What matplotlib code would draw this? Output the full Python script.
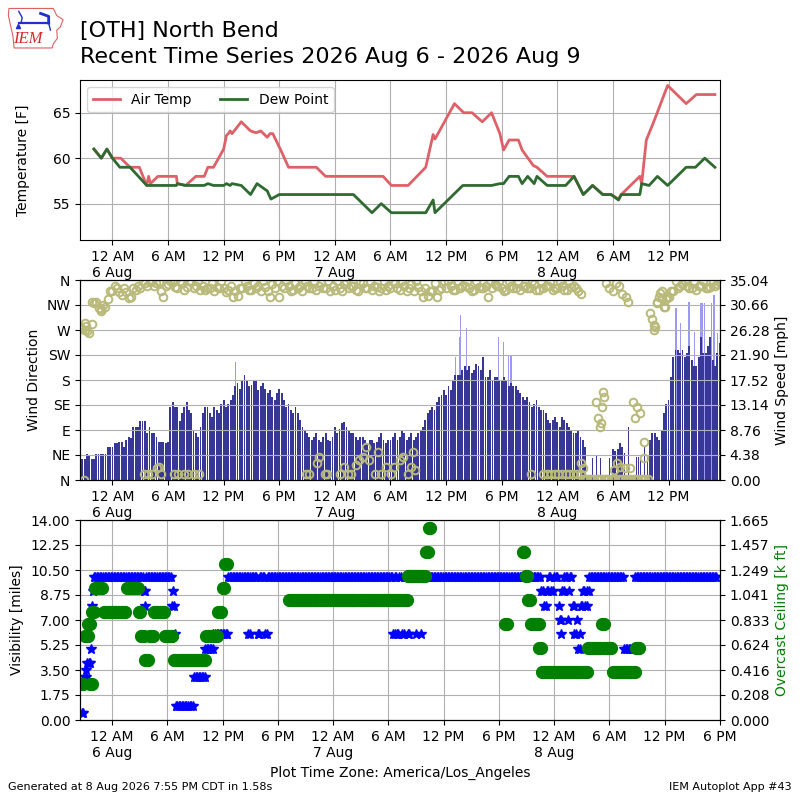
import numpy as np
import pandas as pd
import matplotlib
matplotlib.use("Agg")
import matplotlib.pyplot as plt
import matplotlib.dates as mdates
from matplotlib.ticker import FuncFormatter, FixedLocator
from matplotlib.patches import Polygon

# hours are relative to 6 Aug 2026 00:00 (America/Los_Angeles)
BASE = pd.Timestamp("2026-08-06 00:00")

# --- temperature / dew point (F) ---
temp_hours = [-2.0, -1.2, -0.6, 0.0, 0.9, 1.9, 2.9, 3.7, 3.9, 4.1, 4.9, 6.9, 7.0, 7.9,
              9.0, 9.9, 10.3, 10.9, 12.0, 12.3, 12.5, 12.7, 12.9, 13.9, 14.9, 15.5,
              16.0, 16.7, 17.0, 17.3, 18.2, 19.0, 22.0, 23.0, 29.2, 30.1, 31.9, 33.8,
              34.6, 34.8, 36.9, 37.9, 38.8, 39.9, 40.9, 41.8, 42.2, 42.8, 43.8, 44.2,
              45.4, 45.8, 46.9, 49.8, 50.8, 51.8, 52.9, 53.8, 54.6, 54.9, 56.9, 57.1,
              57.6, 58.4, 59.9, 61.9, 63.0, 65.0]
temp_vals = [61, 60, 61, 60, 60, 59, 59, 57, 58, 57.2, 58, 58, 57.2, 57,
             58, 58, 59, 59, 61, 62.5, 62.7, 63, 62.7, 64, 63, 62.8,
             63, 62.3, 62.7, 62.7, 60.8, 59, 59, 58, 58, 57, 57, 59,
             62.6, 62.1, 66, 65, 65, 64, 65, 62.7, 60.9, 62, 62, 60.9,
             59.2, 59, 58, 58, 56, 57, 56, 56, 55.5, 56, 58, 57.2,
             62, 64, 68, 66, 67, 67]
dew_hours = [-2.0, -1.2, -0.6, 0.0, 0.8, 1.9, 3.7, 4.9, 6.9, 7.0, 7.9, 9.9, 10.3, 10.9,
             12.0, 12.3, 12.7, 12.9, 13.9, 14.9, 15.6, 16.7, 17.1, 18.0, 26.0, 28.0,
             29.0, 30.1, 33.8, 34.6, 34.8, 37.8, 40.9, 41.8, 42.2, 42.8, 43.8, 44.2,
             44.8, 45.5, 45.8, 46.9, 48.9, 49.8, 50.8, 51.8, 52.9, 53.8, 54.6, 54.9,
             56.9, 57.1, 57.9, 58.8, 59.9, 61.9, 62.9, 63.9, 65.0]
dew_vals = [61, 60, 61, 60, 59, 59, 57, 57, 57, 57.2, 57, 57, 57.2, 57,
            57, 57.2, 57, 57.2, 57, 56, 57.2, 56.4, 55.5, 56, 56, 54,
            55, 54, 54, 55.4, 54, 57, 57, 57.2, 57.2, 58, 58, 57.2,
            58, 57.2, 58, 57, 57, 58, 56, 57, 56, 56, 55.4, 56,
            56, 57.2, 57, 58, 57, 59, 59, 60, 59]

# --- wind, every 30 minutes from 5 Aug 20:30 ---
wind_speed = [3.6, 3.6, 4.2, 3.6, 4.5, 4.5, 5.8,
              5.8, 6.4, 6.7, 7.0, 7.3, 9.3, 10.3, 10.3, 9.3, 8.2, 6.7, 6.7,
              6.7, 13.7, 12.8, 11.7, 13.7, 11.7, 8.2, 9.3, 12.8, 11.7, 12.8, 11.7,
              14.0, 13.4, 14.9, 17.0, 17.5, 17.5, 16.6, 17.5, 16.4, 16.0, 15.8, 14.0,
              16.0, 14.0, 13.4, 11.7, 11.7, 9.3, 8.2, 7.0, 8.2, 6.7, 8.2, 6.8,
              9.3, 9.0, 10.2, 8.8, 8.2, 7.0, 7.6, 6.4, 7.0, 6.7, 8.2, 6.4,
              7.0, 8.2, 7.6, 8.2, 7.6, 7.0, 8.2, 9.3, 11.7, 12.8, 13.7, 14.9,
              14.9, 15.8, 18.4, 18.4, 19.9, 19.9, 19.3, 19.9, 21.6, 18.1, 17.5, 18.1,
              17.5, 17.5, 17.0, 16.4, 15.2, 14.0, 13.7, 13.4, 12.8, 12.3, 10.5, 10.5,
              10.2, 11.0, 9.9, 8.8, 8.2, 7.6, 5.8, 0, 0, 0, 0, 0,
              5.5, 5.5, 5.8, 0, 0, 0, 0, 0, 7.0, 8.2, 7.0, 11.7,
              14.0, 21.6, 22.8, 22.8, 22.2, 21.0, 19.9, 25.1, 22.2, 25.1, 19.9, 24.0]
# the same half hours, a quarter hour later
wind_speed_q = [3.6, 4.5, 3.6, 4.5, 4.5, 4.5, 5.8,
                6.4, 6.7, 5.8, 7.6, 9.3, 9.3, 10.3, 8.2, 8.2, 7.6, 6.7, 6.4,
                12.8, 12.8, 10.3, 12.8, 12.3, 8.8, 7.6, 11.7, 12.8, 11.0, 12.3, 13.4,
                12.8, 14.0, 16.4, 16.0, 18.4, 16.4, 17.5, 15.8, 17.0, 15.2, 14.6, 15.2,
                15.2, 12.8, 12.3, 12.8, 10.5, 8.8, 7.6, 7.6, 7.0, 7.6, 7.0, 7.6,
                8.2, 9.9, 9.3, 8.2, 7.6, 7.6, 7.0, 7.0, 6.4, 7.6, 7.0, 7.0,
                7.6, 7.0, 8.8, 7.0, 8.2, 7.6, 8.8, 10.5, 12.3, 12.3, 14.6, 15.8,
                16.4, 17.5, 18.4, 19.3, 19.3, 18.7, 20.4, 19.3, 18.1, 19.3, 18.1, 17.5,
                18.1, 16.4, 16.4, 15.8, 14.6, 14.6, 12.8, 14.0, 12.3, 11.7, 9.9, 11.0,
                9.3, 10.5, 9.3, 8.2, 8.8, 7.0, 0, 0, 0, 0, 0, 0,
                5.0, 6.4, 4.7, 0, 0, 0, 0, 0, 8.2, 7.6, 8.8, 13.4,
                18.1, 22.8, 22.2, 21.6, 23.4, 19.9, 21.6, 22.2, 23.4, 21.0, 22.2, 24.0]
wind_drct = [275, 282, 265, 318, 310, 315, 325,
             340, 345, 333, 338, 330, 342, 345, 355, 357, 350, 357, 330,
             352, 357, 345, 355, 348, 357, 350, 342, 342, 345, 340, 345,
             345, 342, 330, 332, 345, 350, 342, 345, 340, 348, 330, 345,
             330, 345, 350, 342, 345, 340, 350, 345, 342, 355, 345, 340,
             342, 345, 352, 345, 350, 340, 355, 345, 342, 348, 345, 342,
             345, 355, 342, 350, 345, 340, 348, 330, 332, 340, 330, 345,
             345, 350, 342, 345, 350, 345, 342, 348, 345, 330, 345, 350,
             345, 342, 350, 345, 342, 350, 345, 352, 342, 345, 350, 342,
             345, 350, 342, 348, 345, 335, 2, 2, 2, 2, 2, 2,
             2, 2, 2, 2, 2, 2, 2, 2, 300, 275, 330, 312,
             330, 340, 345, 352, 350, 345, 342, 350, 345, 348, 350, 355]
wind_drct_q = [272, 268, 280, 320, 305, 312, 340,
               350, 338, 345, 328, 345, 350, 358, 350, 358, 355, 340, 350,
               358, 348, 358, 342, 358, 345, 358, 350, 345, 355, 348, 358,
               338, 350, 340, 345, 358, 342, 355, 350, 358, 340, 352, 358,
               350, 358, 340, 355, 350, 358, 345, 358, 350, 345, 358, 350,
               358, 340, 358, 350, 342, 358, 345, 358, 350, 340, 358, 350,
               358, 345, 358, 340, 352, 358, 340, 345, 340, 355, 342, 358,
               358, 342, 358, 350, 358, 340, 358, 345, 350, 358, 352, 358,
               340, 358, 345, 358, 350, 345, 358, 342, 358, 350, 358, 345,
               358, 342, 358, 350, 340, 2, 2, 2, 2, 2, 2, 2,
               2, 2, 2, 2, 2, 2, 2, 2, 290, 320, 340, 325,
               340, 358, 350, 358, 345, 358, 350, 358, 345, 358, 352, 358]
# short spikes of sustained wind during the light-wind period
spike_hours = [51.8, 52.2, 52.7, 53.6, 55.7, 56.5, 56.8, 57.0, 57.4, 57.7]
spike_speed = [3.9, 4.2, 3.9, 3.9, 9.3, 4.1, 4.1, 4.1, 5.8, 4.1]
gust_hours = [13.3, 37.0, 37.4, 37.6, 38.2, 41.7, 42.2, 42.7, 43.0,
              60.8, 61.3, 62.2, 62.8, 63.5, 63.7, 63.9, 64.6, 64.9, 65.3]
gust_speed = [20.7, 21.6, 25.1, 28.9, 26.6, 25.1, 24.2, 21.7, 21.7,
              30.1, 27.5, 31.2, 26.0, 31.0, 31.0, 31.0, 31.0, 32.4, 25.7]
# extra direction reports (variable / light wind)
drct2_hours = [-3.1, -3.0, -2.8, -2.2, -1.2,
               3.4, 3.8, 4.3, 4.8, 5.0, 5.2, 6.6, 7.1, 7.7, 8.2, 8.8, 9.3,
               20.9, 21.2, 22.1, 22.3, 22.9, 23.2,
               24.5, 25.0, 25.4, 25.7, 26.3, 26.6, 27.0, 27.4, 27.7, 28.3, 28.6, 29.0,
               29.5, 30.1, 30.4, 31.0, 31.3, 31.9, 32.2, 32.4, 32.6,
               45.2, 46.5, 46.9, 47.3, 47.7, 48.1, 48.5, 48.9, 49.3, 49.7, 50.1, 50.5,
               50.6, 50.8,
               52.2, 52.4, 52.6, 52.7, 52.8, 52.9, 53.0,
               53.3, 53.6, 54.0, 54.3, 54.6, 55.0, 55.4, 55.6,
               54.1, 54.4, 54.8, 55.3, 55.8,
               56.2, 56.4, 56.6, 56.9, 57.4, 57.4,
               58.4, 58.4, 58.7, 59.1, 59.3, 59.6, 59.8]
drct2_vals = [0, 270, 278, 321, 308,
              11, 11, 11, 21, 24, 11, 11, 11, 11, 11, 11, 11,
              11, 11, 30, 42, 11, 11,
              11, 24, 11, 11, 27, 36, 42, 60, 36, 11, 51, 11,
              24, 11, 24, 36, 42, 11, 24, 51, 18,
              11, 11, 11, 11, 11, 11, 11, 11, 11, 11, 11, 11,
              30, 21,
              141, 111, 96, 102, 132, 159, 150,
              354, 345, 340, 354, 350, 335, 330, 321,
              18, 30, 24, 21, 21,
              141, 111, 132, 120, 69, 39,
              279, 270, 318, 336, 327, 312, 330]

# --- visibility (miles) and overcast ceiling (k ft): (value, hours it lasted),
# reports every 10 minutes starting 5 Aug 20:42
vis_runs = [(0.5, 0.3), (3, 0.2), (3.5, 0.1), (4, 0.4), (5, 0.1), (8, 0.1), (9, 0.1),
            (10, 5.4), (9, 0.2), (8, 0.1),
            (10, 2.8), (8, 0.1), (9, 0.1), (8, 0.1), (6, 0.1),
            (1, 2.0), (3, 1.2), (5, 0.9), (6, 1.6),
            (10, 2.2), (6, 0.2), (10, 0.8), (6, 0.2), (10, 0.6), (6, 0.3),
            (10, 13.6), (6, 0.2), (10, 0.2), (6, 0.3), (10, 0.3), (6, 0.2), (10, 0.4),
            (6, 0.3), (10, 0.6), (6, 0.1), (10, 0.4), (6, 0.1),
            (10, 13.0), (9, 0.3), (8, 0.3), (9, 0.2), (10, 0.3), (9, 0.3), (10, 0.5),
            (8, 0.1), (7, 0.2), (6, 0.1), (9, 0.2), (10, 0.4), (7, 0.1), (9, 0.1),
            (10, 0.3), (8, 0.2), (6, 0.3), (7, 0.1), (5, 0.2), (6, 0.1), (8, 0.2),
            (9, 0.3), (8, 0.2), (9, 0.2),
            (10, 3.8), (5, 1.2), (10, 9.0)]
ceil_runs = [(0.3, 0.3), (0.7, 0.4), (0.8, 0.2), (0.3, 0.2), (0.9, 0.3), (1.1, 1.0),
             (0.9, 2.5), (1.1, 1.3), (0.9, 0.2), (0.7, 0.5), (0.5, 0.5), (0.7, 0.4),
             (0.9, 1.2), (0.7, 1.0), (0.5, 3.5), (0.7, 1.3), (0.9, 0.5), (1.1, 0.3),
             (1.3, 0.2), (None, 6.7), (1.0, 12.9), (1.2, 2.0), (1.4, 0.3), (1.6, 0.2),
             (None, 8.1), (0.8, 0.2), (None, 1.7), (1.4, 0.3), (1.2, 0.3), (1.0, 0.3),
             (0.8, 0.9), (0.6, 0.3), (0.4, 5.0), (0.6, 1.5), (0.8, 0.2), (0.6, 1.0),
             (0.4, 2.5), (0.6, 0.4)]
obs_start = -3.3


def to_num(hours):
    t = BASE + pd.to_timedelta(np.asarray(hours, dtype=float), unit="h")
    return mdates.date2num(t.to_pydatetime())


def expand(runs, start):
    hours, vals = [], []
    t = start
    for v, d in runs:
        for k in np.arange(0, d - 1e-9, 1 / 6.0):
            hours.append(t + k)
            vals.append(np.nan if v is None else v)
        t += d
    return to_num(hours), np.array(vals)


def fmt_time(x, pos=None):
    d = mdates.num2date(x)
    lbl = d.strftime("%I %p").lstrip("0")
    if d.hour == 0:
        lbl += "\n%d %s" % (d.day, d.strftime("%b"))
    return lbl


def time_axis(ax, h0, h1):
    ax.set_xlim(to_num([h0])[0], to_num([h1])[0])
    ax.xaxis.set_major_locator(mdates.HourLocator(byhour=[0, 6, 12, 18]))
    ax.xaxis.set_major_formatter(FuncFormatter(fmt_time))


wind_t = mdates.date2num(pd.date_range("2026-08-05 20:30", periods=len(wind_speed),
                                       freq="30min").to_pydatetime())
wind_tq = wind_t + 0.25 / 24

fig = plt.figure(figsize=(8, 8), dpi=100)

# title + logo
fig.text(0.1, 0.954, "[OTH] North Bend", fontsize=16, va="baseline")
fig.text(0.1, 0.921, "Recent Time Series 2026 Aug 6 - 2026 Aug 9", fontsize=16,
         va="baseline")
logo = fig.add_axes([0.009, 0.939, 0.072, 0.052])
logo.set_xlim(0, 1)
logo.set_ylim(0, 1)
logo.axis("off")
iowa = [(0.03, 0.97), (0.80, 0.97), (0.86, 0.80), (0.97, 0.70), (0.92, 0.52),
        (0.86, 0.45), (0.87, 0.25), (0.80, 0.12), (0.78, 0.02), (0.12, 0.02),
        (0.10, 0.30), (0.06, 0.55), (0.02, 0.80)]
logo.add_patch(Polygon(iowa, closed=True, fill=False, ec="#e06060", lw=0.8))
logo.text(0.36, 0.24, "IEM", color="#d42a2a", fontsize=12, fontstyle="italic",
          family="Liberation Serif", ha="center", va="center")
logo.plot([0.2, 0.72], [0.62, 0.62], color="#1f2fd0", lw=1.6)
logo.plot([0.2, 0.26, 0.24], [0.9, 0.75, 0.62], color="#1f2fd0", lw=1.0)
logo.plot([0.58, 0.72, 0.72], [0.85, 0.78, 0.62], color="#1f2fd0", lw=2.0)
logo.plot([0.72, 0.75], [0.62, 0.45], color="#1f2fd0", lw=1.0)
logo.plot([0.18], [0.55], marker="^", color="#1f2fd0", ms=3)

# --- temperature panel ---
ax1 = fig.add_axes([0.1, 0.7, 0.8, 0.2])
ax1.plot(to_num(temp_hours), temp_vals, color="#de6169", lw=2, label="Air Temp")
ax1.plot(to_num(dew_hours), dew_vals, color="#2f6a31", lw=2, label="Dew Point")
ax1.set_ylim(51, 68.6)
ax1.set_yticks([55, 60, 65])
ax1.set_ylabel("Temperature [F]")
ax1.yaxis.set_label_coords(-0.078, 0.5)
ax1.grid(True)
ax1.legend(loc="upper left", ncol=2)
time_axis(ax1, -3.5, 65.55)

# --- wind panel ---
ax2 = fig.add_axes([0.1, 0.4, 0.8, 0.25])
ax2.bar(to_num(gust_hours), gust_speed, width=0.12 / 24, color="#9a9af5", lw=0)
ax2.bar(wind_t, wind_speed, width=0.2 / 24, color="#373797", lw=0)
ax2.bar(wind_tq, wind_speed_q, width=0.2 / 24, color="#373797", lw=0)
ax2.bar(to_num(spike_hours), spike_speed, width=0.1 / 24, color="#373797", lw=0)
spd_max = 35.04
ax2.set_ylim(0, spd_max)
ax2.yaxis.set_major_locator(FixedLocator(np.linspace(0, spd_max, 9)))
ax2.yaxis.set_major_formatter(FuncFormatter(lambda v, p: "%.2f" % v))
ax2b = ax2.twinx()
for tt, dd in ((wind_t, wind_drct), (wind_tq, wind_drct_q),
               (to_num(drct2_hours), drct2_vals)):
    ax2b.plot(tt, dd, ls="none", marker="o", ms=5.5, mfc="none",
              mec="#b9b97a", mew=1.4)
ax2b.set_ylim(0, 360)
ax2b.set_yticks(range(0, 361, 45))
ax2b.set_yticklabels(["N", "NE", "E", "SE", "S", "SW", "W", "NW", "N"])
ax2.yaxis.tick_right()
ax2.yaxis.set_label_position("right")
ax2b.yaxis.tick_left()
ax2b.yaxis.set_label_position("left")
ax2.set_ylabel("Wind Speed [mph]")
ax2b.set_ylabel("Wind Direction")
ax2b.grid(True)
time_axis(ax2, -3.5, 65.55)

# --- visibility / ceiling panel ---
ax3 = fig.add_axes([0.1, 0.1, 0.8, 0.25])
vis_t, vis_v = expand(vis_runs, obs_start)
ceil_t, ceil_v = expand(ceil_runs, obs_start)
ax3.plot(vis_t, vis_v, ls="none", marker="*", ms=7.5, color="b")
ax3.set_ylim(0, 14)
ax3.yaxis.set_major_locator(FixedLocator(np.linspace(0, 14, 9)))
ax3.yaxis.set_major_formatter(FuncFormatter(lambda v, p: "%.2f" % v))
ax3.set_ylabel("Visibility [miles]")
ax3.yaxis.set_label_coords(-0.087, 0.5)
ax3.grid(True)
ax3b = ax3.twinx()
ax3b.plot(ceil_t, ceil_v, ls="none", marker="o", ms=8.5, color="g")
ceil_max = 1.665
ax3b.set_ylim(0, ceil_max)
ax3b.yaxis.set_major_locator(FixedLocator(np.linspace(0, ceil_max, 9)))
ax3b.yaxis.set_major_formatter(FuncFormatter(lambda v, p: "%.3f" % v))
ax3b.set_ylabel("Overcast Ceiling [k ft]", color="g")
time_axis(ax3, -3.5, 66.02)
ax3.set_xlabel("Plot Time Zone: America/Los_Angeles")

fig.text(0.01, 0.012, "Generated at 8 Aug 2026 7:55 PM CDT in 1.58s", fontsize=8)
fig.text(0.99, 0.012, "IEM Autoplot App #43", fontsize=8, ha="right")

fig.savefig("out.png", dpi=100)
